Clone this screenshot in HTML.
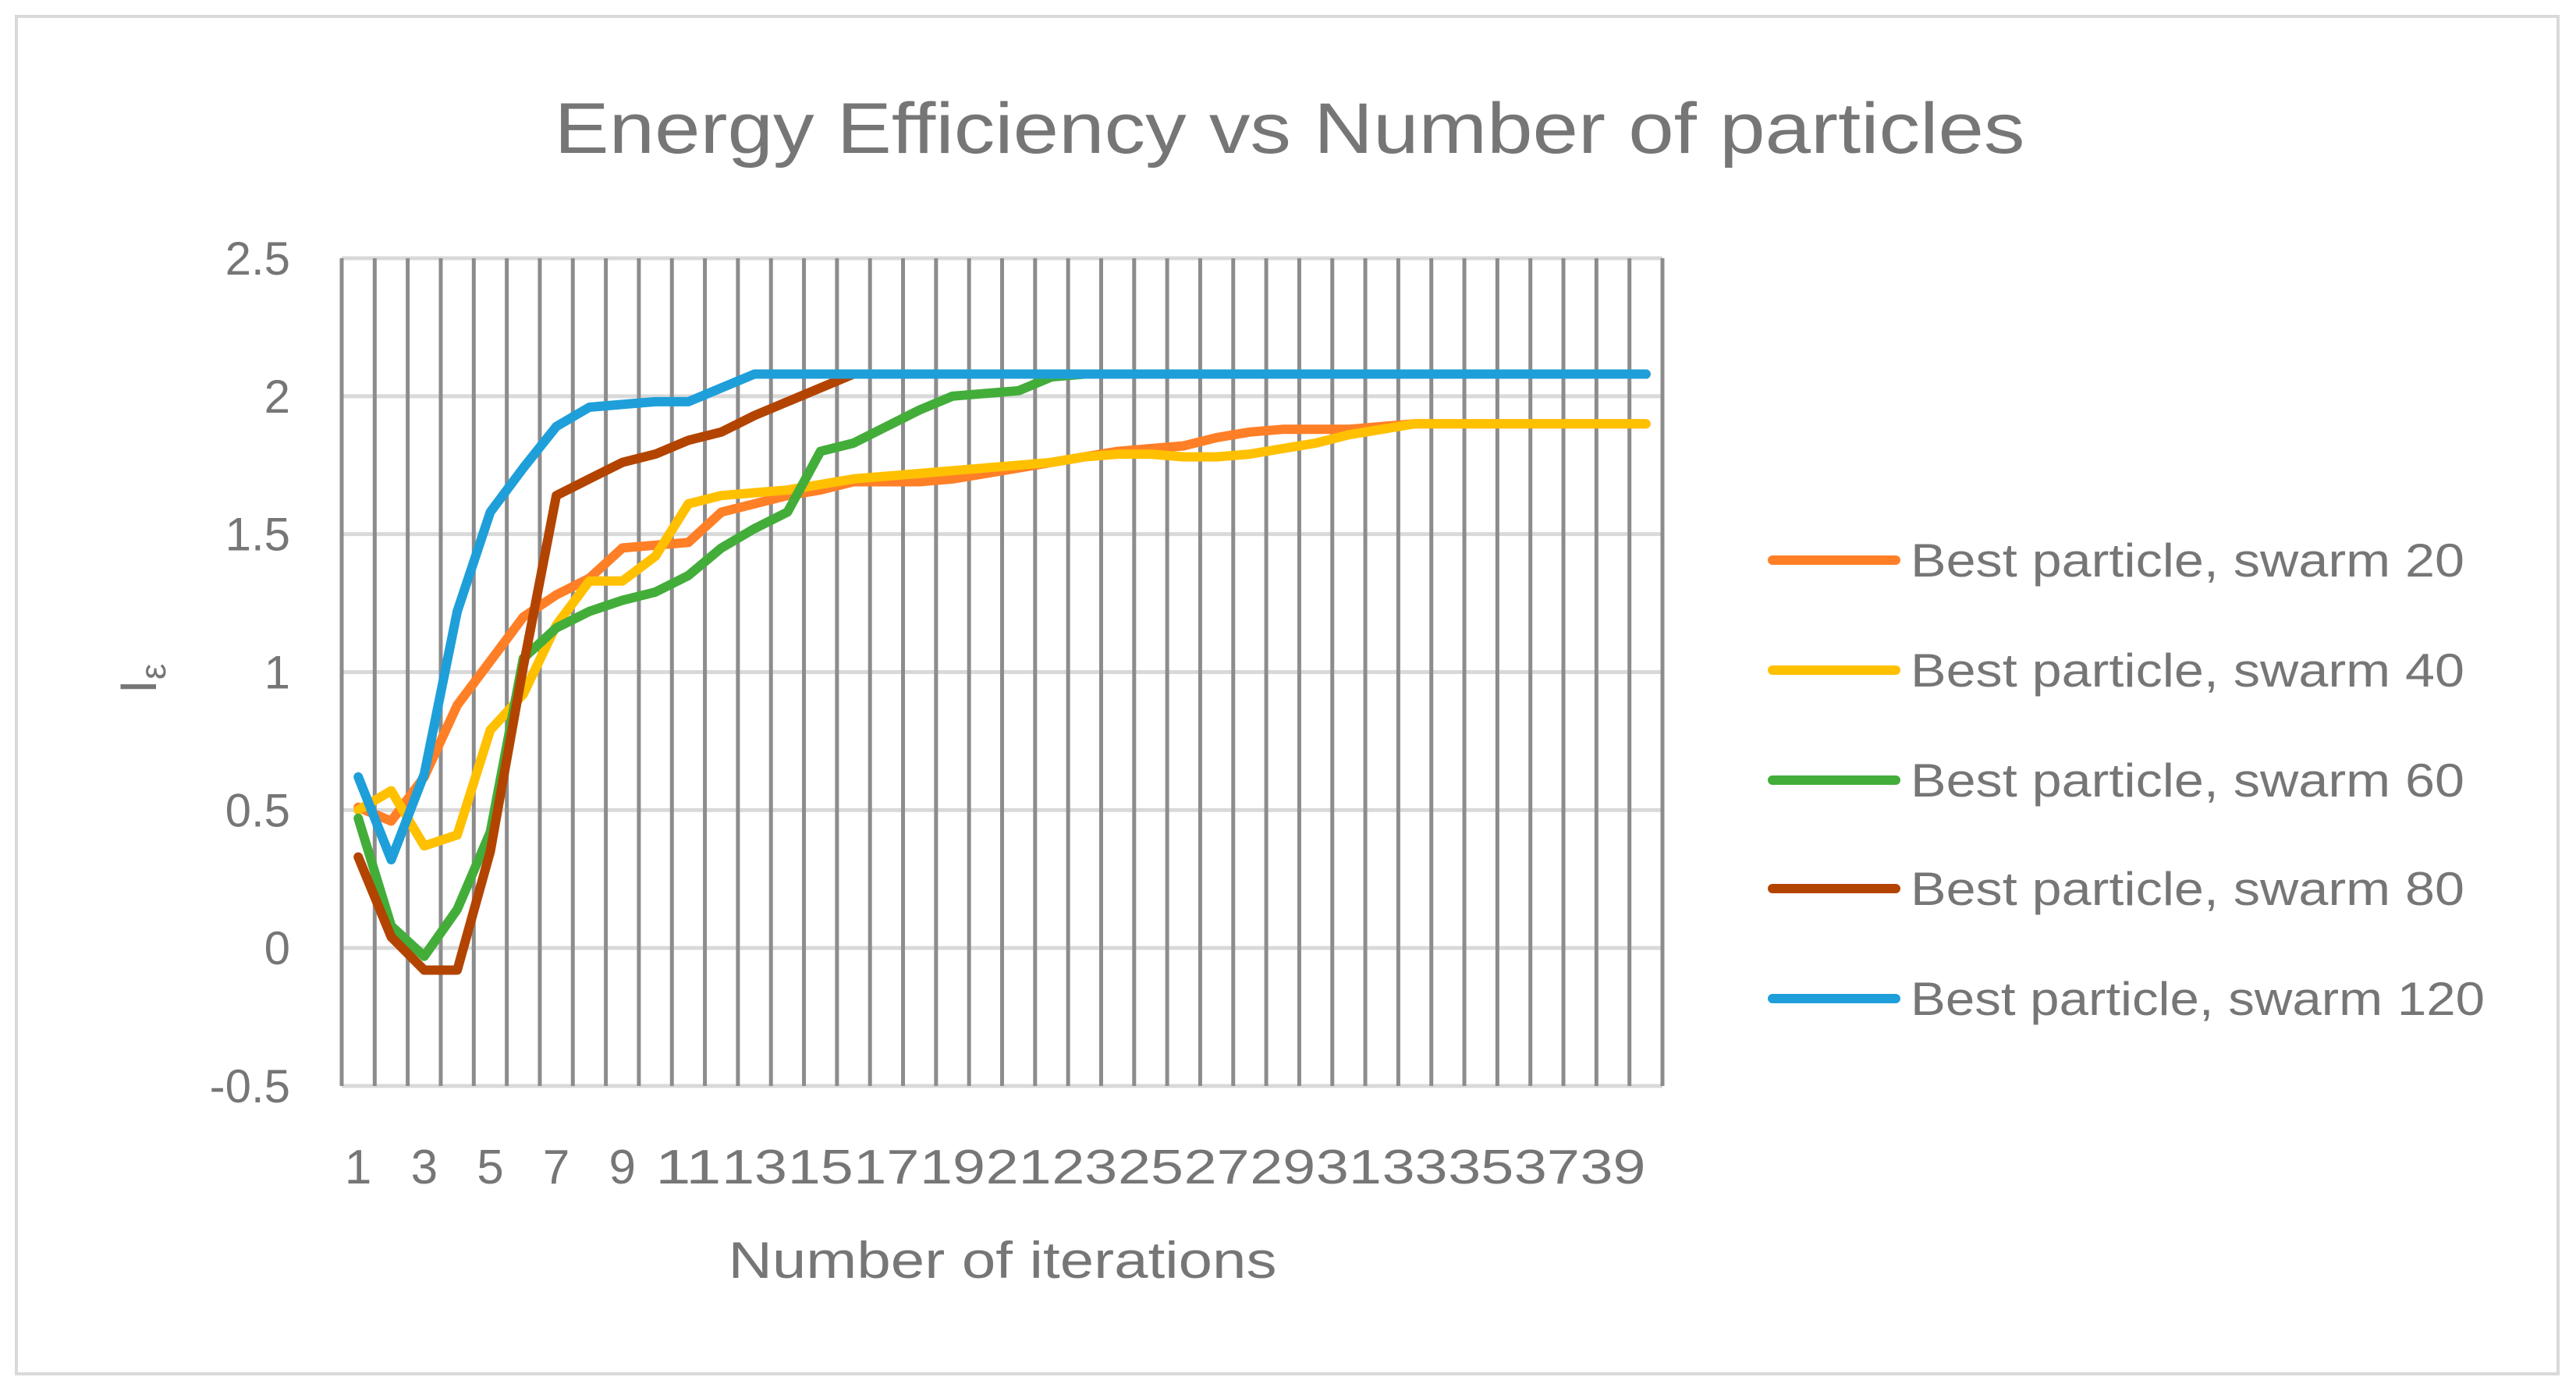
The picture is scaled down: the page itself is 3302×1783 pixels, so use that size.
<!DOCTYPE html>
<html><head><meta charset="utf-8"><style>
html,body{margin:0;padding:0;background:#fff}
svg{display:block}
text{font-family:"Liberation Sans",sans-serif;fill:#767676}
</style></head><body>
<svg id="chart" width="3302" height="1783" viewBox="0 0 3302 1783" xmlns="http://www.w3.org/2000/svg">
<rect x="21" y="21" width="3258" height="1740" fill="#fff" stroke="#d9d9d9" stroke-width="4"/>
<text x="1653" y="196" font-size="92" text-anchor="middle" textLength="1885" lengthAdjust="spacingAndGlyphs">Energy Efficiency vs Number of particles</text>
<g id="grid"></g>
<g id="series"></g>
<g id="labels"></g>
<text x="1285" y="1638" font-size="66" text-anchor="middle" textLength="703" lengthAdjust="spacingAndGlyphs">Number of iterations</text>
<text transform="translate(200,870) rotate(-90)" font-size="66" text-anchor="middle">I<tspan font-size="46" dy="12">ε</tspan></text>
<g id="legend"></g>
</svg>
<script>
const categories = Array.from({length:40},(_,i)=>i+1);
const yTicks = [-0.5,0,0.5,1,1.5,2,2.5];
const yTickLabels = ["-0.5","0","0.5","1","1.5","2","2.5"];
const seriesNames = ["Best particle, swarm 20","Best particle, swarm 40","Best particle, swarm 60","Best particle, swarm 80","Best particle, swarm 120"];
const seriesColors = ["#ff7f27","#ffc000","#43ad3a","#b34400","#1e9fd9"];
const swarm20 = [0.51,0.46,0.62,0.88,1.04,1.20,1.28,1.34,1.45,1.46,1.47,1.58,1.61,1.64,1.66,1.69,1.69,1.69,1.70,1.72,1.74,1.76,1.78,1.80,1.81,1.82,1.85,1.87,1.88,1.88,1.88,1.89,1.90,1.90,1.90,1.90,1.90,1.90,1.90,1.90];
const swarm40 = [0.50,0.57,0.37,0.41,0.79,0.92,1.17,1.33,1.33,1.42,1.61,1.64,1.65,1.66,1.68,1.70,1.71,1.72,1.73,1.74,1.75,1.76,1.78,1.79,1.79,1.78,1.78,1.79,1.81,1.83,1.86,1.88,1.90,1.90,1.90,1.90,1.90,1.90,1.90,1.90];
const swarm60 = [0.47,0.08,-0.03,0.14,0.42,1.05,1.16,1.22,1.26,1.29,1.35,1.45,1.52,1.58,1.80,1.83,1.89,1.95,2.00,2.01,2.02,2.07,2.08,2.08,2.08,2.08,2.08,2.08,2.08,2.08,2.08,2.08,2.08,2.08,2.08,2.08,2.08,2.08,2.08,2.08];
const swarm80 = [0.33,0.04,-0.08,-0.08,0.35,1.02,1.64,1.70,1.76,1.79,1.84,1.87,1.93,1.98,2.03,2.08,2.08,2.08,2.08,2.08,2.08,2.08,2.08,2.08,2.08,2.08,2.08,2.08,2.08,2.08,2.08,2.08,2.08,2.08,2.08,2.08,2.08,2.08,2.08,2.08];
const swarm120 = [0.62,0.32,0.63,1.22,1.58,1.74,1.89,1.96,1.97,1.98,1.98,2.03,2.08,2.08,2.08,2.08,2.08,2.08,2.08,2.08,2.08,2.08,2.08,2.08,2.08,2.08,2.08,2.08,2.08,2.08,2.08,2.08,2.08,2.08,2.08,2.08,2.08,2.08,2.08,2.08];

const NS="http://www.w3.org/2000/svg";
const L=438,R=2131,T=331,B=1392,yMin=-0.5,yMax=2.5;
const bw=(R-L)/categories.length;
const xPos=i=>L+bw*(i+0.5);
const yPos=v=>B-(v-yMin)/(yMax-yMin)*(B-T);
function mk(tag,attrs,parent){const e=document.createElementNS(NS,tag);for(const k in attrs)e.setAttribute(k,attrs[k]);parent.appendChild(e);return e;}
const grid=document.getElementById('grid');
yTicks.forEach((v,i)=>{
  const ln=mk('line',{x1:L,x2:R,y1:yPos(v),y2:yPos(v),stroke:'#d9d9d9','stroke-width':5},grid);
  
  
  const t=mk('text',{x:372,y:yPos(v)+21,'font-size':60,'text-anchor':'end'},document.getElementById('labels'));
  t.textContent=yTickLabels[i];
  
  
});
for(let i=0;i<=categories.length;i++){
  const x=L+bw*i;
  const ln=mk('line',{x1:x,x2:x,y1:T,y2:B,stroke:'#8c8c8c','stroke-width':5},grid);
  
  
}
categories.forEach((c,i)=>{
  if(c%2===0)return;
  const t=mk('text',{x:xPos(i),y:1517,'font-size':62,'text-anchor':'middle'},document.getElementById('labels'));
  if(c>=10){t.setAttribute('textLength',84);t.setAttribute('lengthAdjust','spacingAndGlyphs');}
  t.textContent=String(c);
  
  
});
const allSeries=[swarm20,swarm40,swarm60,swarm80,swarm120];
const order=[0,1,2,3,4];
order.forEach(s=>{
  const pts=allSeries[s].map((v,i)=>xPos(i).toFixed(1)+','+yPos(v).toFixed(1)).join(' ');
  const p=mk('polyline',{points:pts,fill:'none',stroke:seriesColors[s],'stroke-width':12,'stroke-linejoin':'round','stroke-linecap':'round'},document.getElementById('series'));
  
  
});
const lg=document.getElementById('legend');
const rows=[718,859,1000,1139,1280];
seriesNames.forEach((n,s)=>{
  const g=mk('g',{},lg);
  
  
  mk('line',{x1:2272,x2:2430,y1:rows[s],y2:rows[s],stroke:seriesColors[s],'stroke-width':12,'stroke-linecap':'round'},g);
  const t=mk('text',{x:2449,y:rows[s]+21,'font-size':60},g);
  t.setAttribute('textLength',s===4?736:710);
  t.setAttribute('lengthAdjust','spacingAndGlyphs');
  t.textContent=n;
});
</script>
</body></html>
